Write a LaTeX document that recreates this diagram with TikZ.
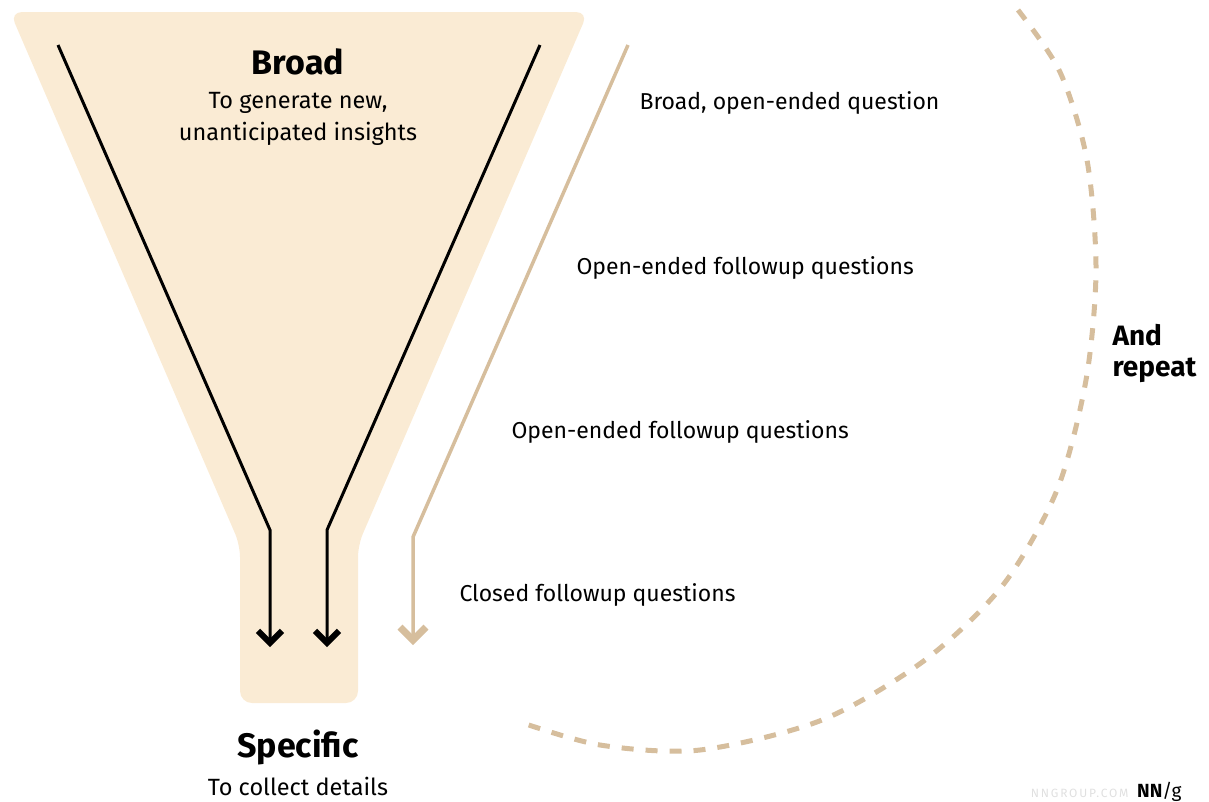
\documentclass[tikz,border=0pt]{standalone}
\usepackage{fontspec}
\setmainfont{Fira Sans}
\usetikzlibrary{arrows.meta}

\definecolor{funnelcream}{RGB}{250,235,212}
\definecolor{funneltan}{RGB}{214,190,157}

\begin{document}
\begin{tikzpicture}[x=1pt,y=-1pt,
    funnelfill/.style={
      fill=funnelcream,
      rounded corners=12pt
    },
    blackarrow/.style={
      draw=black,
      line width=3pt,
      -{Straight Barb[length=12pt,width=24pt,line width=6pt]}
    },
    tanarrow/.style={
      draw=funneltan,
      line width=3.5pt,
      -{Straight Barb[length=13pt,width=26pt,line width=7pt]}
    },
    repeatline/.style={
      draw=funneltan,
      line width=5pt,
      dash pattern=on 12pt off 12pt
    },
    headtext/.style={
      font=\fontsize{34}{38}\selectfont\bfseries,
      align=center
    },
    subtext/.style={
      font=\fontsize{23.5}{32}\selectfont,
      align=center
    },
    steptext/.style={
      font=\fontsize{23}{27}\selectfont,
      anchor=west
    }
    ]
    \useasboundingbox (0,0) rectangle (1209,801);
    %\draw[red] (0,0) rectangle (1209,801);
    \fill[funnelfill] (10,12) -- (588,12) -- (358,545) -- (358,703) -- (240,703) -- (240,545) -- cycle;

    \node[headtext] (broad) at (298,62) {Broad};
    \node[subtext] (broadsub) at (298,119) {To generate new,\\unanticipated insights};
    \node[headtext] (specific) at (298,747) {Specific};
    \node[subtext] (specificsub) at (298,786) {To collect details};

    \coordinate (L1) at (58,45);
    \coordinate (L2) at (270,530);
    \coordinate (L3) at (270,647);
    \coordinate (R1) at (540,45);
    \coordinate (R2) at (327,530);
    \coordinate (R3) at (327,647);
    \coordinate (T1) at (628,45);
    \coordinate (T2) at (413,537);
    \coordinate (T3) at (413,645);
    \draw[blackarrow] (L1) -- (L2) -- (L3);
    \draw[blackarrow] (R1) -- (R2) -- (R3);
    \draw[tanarrow] (T1) -- (T2) -- (T3);

    \node[steptext] (q1) at (636,103) {Broad, open-ended question};
    \node[steptext] (q2) at (573,268) {Open-ended followup questions};
    \node[steptext] (q3) at (508,432) {Open-ended followup questions};
    \node[steptext] (q4) at (456,595) {Closed followup questions};

    \draw[repeatline] plot[smooth] coordinates {(1018,10) (1060,72) (1087,160) (1096,270) (1086,380) (1057,490) (1003,585) (925,660) (822,720) (700,750) (600,745) (520,722)};
    \node[font=\fontsize{28}{31}\selectfont\bfseries, align=left, anchor=west] (repeat) at (1109,353) {And\\repeat};

    \node[font=\fontsize{12}{14}\selectfont\addfontfeatures{LetterSpace=15}, text=black!12, anchor=base east] (site) at (1132,797) {NNGROUP.COM};
    \node[font=\fontsize{19}{22}\selectfont, anchor=base west, inner sep=0pt] (logo) at (1137,797) {\textbf{NN}/g};
\end{tikzpicture}
\end{document}
